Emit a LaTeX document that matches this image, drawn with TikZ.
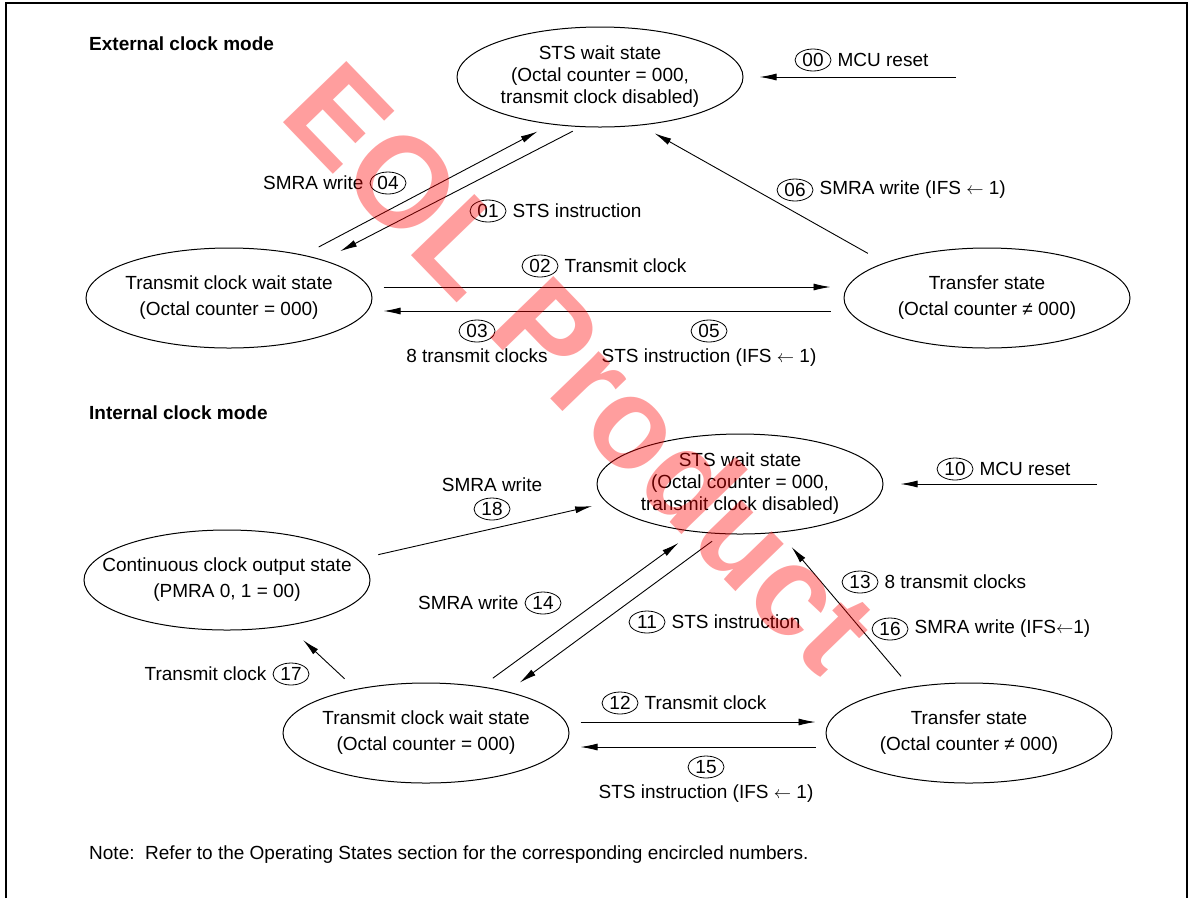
\documentclass[tikz,border=0pt]{standalone}
\usepackage{fontspec}
\setmainfont{Liberation Sans}
\usetikzlibrary{shapes.geometric,arrows.meta,positioning}

\begin{document}
\begin{tikzpicture}[x=1pt, y=-1pt, font=\fontsize{19}{22}\selectfont]
    \tikzstyle{state} = [ellipse, draw, line width=1pt, minimum width=286pt, minimum height=100pt, inner xsep=-40pt, inner ysep=-20pt, align=center]
    \tikzstyle{numtag} = [ellipse, draw, line width=0.8pt, minimum width=36pt, minimum height=22pt, inner sep=0pt]
    \tikzstyle{lbl} = [inner sep=0pt]
    \tikzstyle{heading} = [anchor=west, inner sep=0pt, font=\fontsize{19}{22}\selectfont\bfseries]
    \tikzstyle{line} = [draw, line width=0.9pt, -{Latex[length=17pt,width=7pt]}]

    \useasboundingbox (0,0) rectangle (1198,898);
    \draw [line width=1.5pt] (6,898) -- (6,3) -- (1187,3) -- (1187,898);

    % external clock mode
    \node [heading] (ext) at (89,44) {External clock mode};
    \node [state] (sts1) at (600,77) {STS wait state\\(Octal counter = 000,\\transmit clock disabled)};
    \node [state] (tw1) at (229,298) {Transmit clock wait state\\[4pt](Octal counter = 000)};
    \node [state] (tr1) at (987,298) {Transfer state\\[4pt](Octal counter ≠ 000)};
    \coordinate (rst1) at (956,77);

    \node [numtag] (c00) at (813,60) {00};
    \node [lbl, right=6pt of c00] (t00) {MCU reset};
    \node [numtag] (c04) at (388,183) {04};
    \node [lbl, left=6pt of c04] (t04) {SMRA write};
    \node [numtag] (c01) at (488,211) {01};
    \node [lbl, right=6pt of c01] (t01) {STS instruction};
    \node [numtag] (c06) at (795,190) {06};
    \node [lbl, right=6pt of c06] (t06) {SMRA write (IFS $\leftarrow$ 1)};
    \node [numtag] (c02) at (540,266) {02};
    \node [lbl, right=6pt of c02] (t02) {Transmit clock};
    \node [numtag] (c03) at (477,331) {03};
    \node [lbl, below=6pt of c03] (t03) {8 transmit clocks};
    \node [numtag] (c05) at (709,331) {05};
    \node [lbl, below=6pt of c05] (t05) {STS instruction (IFS $\leftarrow$ 1)};

    \draw [line, shorten >=16pt] (rst1) -- (sts1.east);
    \draw [line, shorten <=17pt, shorten >=15pt] (tw1.30) -- (sts1.224);
    \draw [line, shorten <=9pt, shorten >=19pt] (sts1.249) -- (tw1.22);
    \draw [line, shorten <=19pt, shorten >=16pt] (tr1.161) -- (sts1.310);
    \draw [line, shorten <=11pt, shorten >=13pt] ([yshift=11pt]tw1.east) -- ([yshift=11pt]tr1.west);
    \draw [line, shorten <=13pt, shorten >=11pt] ([yshift=-13pt]tr1.west) -- ([yshift=-13pt]tw1.east);

    % internal clock mode
    \node [heading] (int) at (89,413) {Internal clock mode};
    \node [state] (sts2) at (740,484) {STS wait state\\(Octal counter = 000,\\transmit clock disabled)};
    \node [state] (cc) at (227,580) {Continuous clock output state\\[4pt](PMRA 0, 1 = 00)};
    \node [state] (tw2) at (426,733) {Transmit clock wait state\\[4pt](Octal counter = 000)};
    \node [state] (tr2) at (969,733) {Transfer state\\[4pt](Octal counter ≠ 000)};
    \coordinate (rst2) at (1097,484);

    \node [numtag] (c10) at (955,469) {10};
    \node [lbl, right=6pt of c10] (t10) {MCU reset};
    \node [numtag] (c18) at (492,509) {18};
    \node [lbl, above=6pt of c18] (t18) {SMRA write};
    \node [numtag] (c14) at (543,603) {14};
    \node [lbl, left=6pt of c14] (t14) {SMRA write};
    \node [numtag] (c11) at (647,622) {11};
    \node [lbl, right=6pt of c11] (t11) {STS instruction};
    \node [numtag] (c13) at (860,582) {13};
    \node [lbl, right=6pt of c13] (t13) {8 transmit clocks};
    \node [numtag] (c16) at (890,629) {16};
    \node [lbl, right=6pt of c16] (t16) {SMRA write (IFS$\leftarrow$1)};
    \node [numtag] (c17) at (291,674) {17};
    \node [lbl, left=6pt of c17] (t17) {Transmit clock};
    \node [numtag] (c12) at (620,703) {12};
    \node [lbl, right=6pt of c12] (t12) {Transmit clock};
    \node [numtag] (c15) at (706,767) {15};
    \node [lbl, below=6pt of c15] (t15) {STS instruction (IFS $\leftarrow$ 1)};

    \draw [line, shorten >=17pt] (rst2) -- (sts2.east);
    \draw [line, shorten <=21pt, shorten >=15pt] (cc.9) -- (sts2.188);
    \draw [line, shorten <=15pt, shorten >=21pt] (tw2.148) -- (cc.323);
    \draw [line, shorten <=14pt, shorten >=19pt] (tw2.40) -- (sts2.226);
    \draw [line, shorten <=12pt, shorten >=15pt] (sts2.250) -- (tw2.27);
    \draw [line, shorten <=14pt, shorten >=19pt] (tr2.142) -- (sts2.309);
    \draw [line, shorten <=11pt, shorten >=10pt] ([yshift=11pt]tw2.east) -- ([yshift=11pt]tr2.west);
    \draw [line, shorten <=10pt, shorten >=11pt] ([yshift=-14pt]tr2.west) -- ([yshift=-14pt]tw2.east);

    \node [lbl, anchor=west] (note) at (89,855) {Note:\ \ Refer to the Operating States section for the corresponding encircled numbers.};

    % watermark
    \node [rotate=-46, text=red, opacity=0.38, text opacity=0.38, inner sep=0pt, font=\fontsize{128}{128}\selectfont\bfseries] (eol) at (582,366) {EOL Product};
\end{tikzpicture}
\end{document}
